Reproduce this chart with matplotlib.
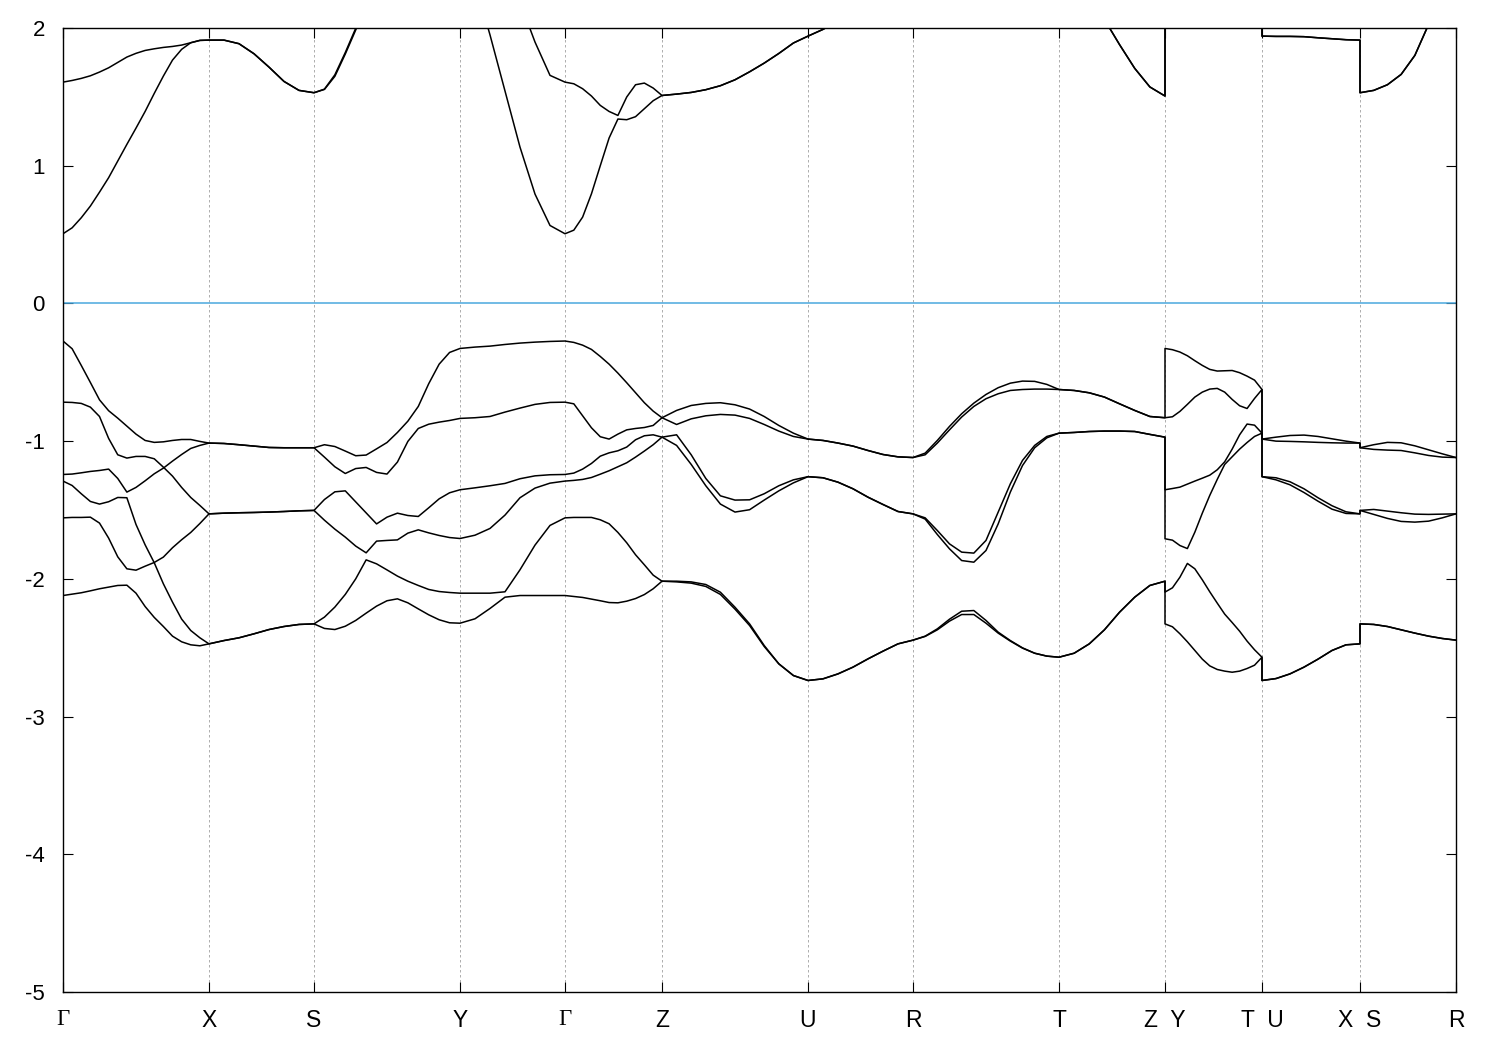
import numpy as np
import matplotlib
matplotlib.use('Agg')
from matplotlib import pyplot as plt

plt.rcParams['font.family'] = ['Liberation Sans', 'DejaVu Sans']
plt.rcParams['axes.unicode_minus'] = False

# k-path segment lengths (arb. units), in path order
seg_len = [1.46, 1.05, 1.46, 1.05, 0.97, 1.46, 1.05, 1.46, 1.06, 0.97, 0.98, 0.96]
tick_labels = ['Γ', 'X', 'S', 'Y', 'Γ', 'Z', 'U', 'R', 'T', 'Z  Y', 'T  U', 'X  S', 'R']

# band energies (eV) on each segment; 6 valence rows then 2 conduction rows
e_GX = [
    [-0.273, -0.329, -0.450, -0.574, -0.700, -0.779, -0.833, -0.891, -0.949, -0.995, -1.009, -1.005, -0.995, -0.988, -0.988, -1.002, -1.014],
    [-0.717, -0.719, -0.726, -0.753, -0.821, -0.980, -1.099, -1.123, -1.111, -1.111, -1.128, -1.189, -1.254, -1.336, -1.409, -1.467, -1.528],
    [-1.242, -1.239, -1.230, -1.220, -1.213, -1.203, -1.271, -1.370, -1.336, -1.288, -1.237, -1.196, -1.145, -1.097, -1.053, -1.031, -1.014],
    [-1.290, -1.322, -1.382, -1.438, -1.457, -1.440, -1.409, -1.411, -1.605, -1.753, -1.883, -2.036, -2.169, -2.292, -2.375, -2.428, -2.472],
    [-1.557, -1.554, -1.554, -1.552, -1.595, -1.704, -1.840, -1.927, -1.937, -1.908, -1.881, -1.842, -1.774, -1.716, -1.663, -1.598, -1.528],
    [-2.121, -2.111, -2.101, -2.087, -2.072, -2.060, -2.048, -2.046, -2.104, -2.201, -2.280, -2.346, -2.416, -2.457, -2.479, -2.486, -2.472],
    [0.506, 0.549, 0.622, 0.707, 0.808, 0.913, 1.034, 1.155, 1.273, 1.394, 1.525, 1.651, 1.767, 1.845, 1.893, 1.910, 1.912],
    [1.607, 1.619, 1.634, 1.653, 1.680, 1.711, 1.750, 1.789, 1.816, 1.837, 1.849, 1.859, 1.866, 1.876, 1.893, 1.910, 1.912],
]
e_XS = [
    [-1.014, -1.017, -1.026, -1.036, -1.046, -1.048, -1.048, -1.048],
    [-1.014, -1.017, -1.026, -1.036, -1.046, -1.048, -1.048, -1.048],
    [-1.528, -1.523, -1.520, -1.518, -1.515, -1.511, -1.506, -1.503],
    [-1.528, -1.523, -1.520, -1.518, -1.515, -1.511, -1.506, -1.503],
    [-2.472, -2.448, -2.428, -2.399, -2.368, -2.346, -2.331, -2.327],
    [-2.472, -2.448, -2.428, -2.399, -2.368, -2.346, -2.331, -2.327],
    [1.912, 1.912, 1.886, 1.813, 1.716, 1.612, 1.547, 1.530],
    [1.912, 1.912, 1.886, 1.813, 1.716, 1.612, 1.547, 1.530],
]
e_SY = [
    [-1.048, -1.026, -1.039, -1.072, -1.106, -1.101, -1.056, -1.010, -0.937, -0.855, -0.748, -0.583, -0.441, -0.356, -0.327],
    [-1.048, -1.116, -1.186, -1.235, -1.199, -1.191, -1.227, -1.239, -1.152, -1.002, -0.908, -0.877, -0.862, -0.850, -0.835],
    [-1.503, -1.424, -1.368, -1.361, -1.441, -1.521, -1.601, -1.552, -1.523, -1.540, -1.547, -1.484, -1.419, -1.375, -1.353],
    [-1.503, -1.574, -1.639, -1.697, -1.762, -1.811, -1.726, -1.721, -1.717, -1.668, -1.644, -1.666, -1.685, -1.700, -1.707],
    [-2.327, -2.278, -2.205, -2.113, -2.000, -1.862, -1.891, -1.935, -1.980, -2.017, -2.048, -2.077, -2.092, -2.099, -2.104],
    [-2.327, -2.360, -2.368, -2.344, -2.302, -2.249, -2.198, -2.159, -2.145, -2.174, -2.218, -2.261, -2.297, -2.319, -2.322],
    [1.530, 1.554, 1.649, 1.811, 1.985, 2.16, 2.32, 2.45, 2.55, 2.62, 2.67, 2.70, 2.71, 2.72, 2.72],
    [1.530, 1.556, 1.660, 1.822, 1.998, 2.18, 2.36, 2.52, 2.65, 2.76, 2.85, 2.91, 2.96, 2.99, 3.00],
]
e_YG = [
    [-0.327, -0.317, -0.310, -0.298, -0.288, -0.281, -0.276, -0.273],
    [-0.835, -0.830, -0.821, -0.789, -0.760, -0.733, -0.719, -0.717],
    [-1.353, -1.339, -1.324, -1.307, -1.273, -1.252, -1.244, -1.242],
    [-1.707, -1.683, -1.634, -1.537, -1.411, -1.341, -1.305, -1.290],
    [-2.104, -2.104, -2.104, -2.094, -1.934, -1.755, -1.612, -1.557],
    [-2.322, -2.290, -2.215, -2.133, -2.121, -2.121, -2.121, -2.121],
    [2.72, 2.33, 1.95, 1.542, 1.135, 0.794, 0.566, 0.506],
    [3.00, 2.80, 2.60, 2.40, 2.188, 1.898, 1.656, 1.607],
]
e_GZ = [
    [-0.273, -0.283, -0.303, -0.334, -0.385, -0.441, -0.506, -0.576, -0.649, -0.721, -0.782, -0.830],
    [-0.717, -0.729, -0.816, -0.903, -0.968, -0.985, -0.949, -0.918, -0.908, -0.901, -0.886, -0.830],
    [-1.242, -1.232, -1.203, -1.162, -1.109, -1.085, -1.070, -1.043, -0.990, -0.961, -0.954, -0.971],
    [-1.290, -1.285, -1.278, -1.264, -1.240, -1.215, -1.186, -1.157, -1.116, -1.072, -1.026, -0.971],
    [-1.557, -1.554, -1.554, -1.554, -1.571, -1.600, -1.663, -1.738, -1.825, -1.898, -1.973, -2.017],
    [-2.121, -2.128, -2.135, -2.147, -2.159, -2.172, -2.174, -2.162, -2.143, -2.114, -2.072, -2.017],
    [0.506, 0.532, 0.627, 0.796, 1.000, 1.201, 1.339, 1.334, 1.356, 1.414, 1.472, 1.510],
    [1.607, 1.595, 1.559, 1.506, 1.438, 1.394, 1.365, 1.499, 1.588, 1.600, 1.564, 1.510],
]
e_ZU = [
    [-0.830, -0.777, -0.741, -0.726, -0.721, -0.736, -0.767, -0.821, -0.886, -0.942, -0.985],
    [-0.830, -0.879, -0.838, -0.816, -0.806, -0.811, -0.835, -0.879, -0.927, -0.966, -0.985],
    [-0.971, -0.954, -1.099, -1.271, -1.397, -1.428, -1.426, -1.382, -1.324, -1.281, -1.258],
    [-0.971, -1.031, -1.169, -1.324, -1.457, -1.515, -1.498, -1.428, -1.361, -1.303, -1.258],
    [-2.017, -2.017, -2.022, -2.041, -2.097, -2.206, -2.327, -2.484, -2.617, -2.702, -2.738],
    [-2.017, -2.022, -2.031, -2.055, -2.113, -2.220, -2.339, -2.491, -2.617, -2.702, -2.738],
    [1.510, 1.520, 1.532, 1.552, 1.581, 1.624, 1.682, 1.745, 1.815, 1.891, 1.941],
    [1.510, 1.520, 1.532, 1.552, 1.581, 1.624, 1.682, 1.745, 1.815, 1.891, 1.941],
]
e_UR = [
    [-0.985, -0.995, -1.014, -1.036, -1.068, -1.097, -1.114, -1.119],
    [-0.985, -0.995, -1.014, -1.036, -1.068, -1.097, -1.114, -1.119],
    [-1.258, -1.266, -1.298, -1.346, -1.407, -1.460, -1.511, -1.528],
    [-1.258, -1.266, -1.298, -1.346, -1.407, -1.460, -1.511, -1.528],
    [-2.738, -2.726, -2.690, -2.641, -2.581, -2.525, -2.472, -2.445],
    [-2.738, -2.726, -2.690, -2.641, -2.581, -2.525, -2.472, -2.445],
    [1.941, 1.990, 2.05, 2.11, 2.17, 2.23, 2.28, 2.32],
    [1.941, 1.990, 2.05, 2.11, 2.17, 2.23, 2.28, 2.32],
]
e_RT = [
    [-1.119, -1.087, -0.995, -0.893, -0.801, -0.724, -0.661, -0.612, -0.579, -0.564, -0.566, -0.588, -0.625],
    [-1.119, -1.099, -1.014, -0.918, -0.825, -0.748, -0.692, -0.656, -0.632, -0.625, -0.622, -0.622, -0.625],
    [-1.528, -1.557, -1.649, -1.746, -1.806, -1.813, -1.721, -1.516, -1.310, -1.140, -1.031, -0.966, -0.942],
    [-1.528, -1.566, -1.678, -1.782, -1.867, -1.879, -1.794, -1.601, -1.370, -1.177, -1.048, -0.976, -0.942],
    [-2.445, -2.416, -2.363, -2.293, -2.235, -2.230, -2.302, -2.387, -2.448, -2.501, -2.540, -2.561, -2.569],
    [-2.445, -2.418, -2.370, -2.307, -2.259, -2.259, -2.322, -2.394, -2.452, -2.503, -2.540, -2.561, -2.569],
    [2.32, 2.36, 2.40, 2.44, 2.48, 2.52, 2.56, 2.60, 2.63, 2.66, 2.68, 2.69, 2.70],
    [2.32, 2.36, 2.40, 2.44, 2.48, 2.52, 2.56, 2.60, 2.63, 2.66, 2.68, 2.69, 2.70],
]
e_TZ = [
    [-0.625, -0.632, -0.649, -0.680, -0.729, -0.777, -0.821, -0.830],
    [-0.625, -0.632, -0.649, -0.680, -0.729, -0.777, -0.821, -0.830],
    [-0.942, -0.937, -0.930, -0.927, -0.927, -0.930, -0.951, -0.971],
    [-0.942, -0.937, -0.930, -0.927, -0.927, -0.930, -0.951, -0.971],
    [-2.569, -2.540, -2.472, -2.370, -2.242, -2.133, -2.048, -2.017],
    [-2.569, -2.540, -2.472, -2.370, -2.242, -2.133, -2.048, -2.017],
    [2.70, 2.48, 2.26, 2.062, 1.879, 1.707, 1.572, 1.506],
    [2.70, 2.48, 2.26, 2.062, 1.879, 1.707, 1.572, 1.506],
]
e_YT = [
    [-0.327, -0.336, -0.353, -0.380, -0.416, -0.450, -0.479, -0.491, -0.489, -0.487, -0.503, -0.528, -0.557, -0.625],
    [-0.830, -0.823, -0.784, -0.733, -0.680, -0.644, -0.622, -0.617, -0.644, -0.697, -0.743, -0.763, -0.690, -0.625],
    [-1.353, -1.344, -1.334, -1.312, -1.290, -1.269, -1.247, -1.208, -1.150, -1.058, -0.954, -0.876, -0.884, -0.942],
    [-1.709, -1.719, -1.758, -1.780, -1.661, -1.523, -1.394, -1.278, -1.169, -1.114, -1.058, -1.010, -0.966, -0.942],
    [-2.096, -2.065, -1.988, -1.888, -1.927, -2.007, -2.094, -2.176, -2.256, -2.317, -2.380, -2.452, -2.515, -2.569],
    [-2.327, -2.348, -2.399, -2.457, -2.520, -2.583, -2.632, -2.658, -2.670, -2.678, -2.670, -2.651, -2.627, -2.569],
    [2.55, 2.53, 2.51, 2.49, 2.47, 2.45, 2.43, 2.41, 2.39, 2.37, 2.36, 2.35, 2.34, 2.33],
    [2.90, 2.87, 2.84, 2.81, 2.78, 2.75, 2.72, 2.69, 2.66, 2.63, 2.60, 2.57, 2.54, 2.52],
]
e_UX = [
    [-0.985, -0.971, -0.959, -0.956, -0.966, -0.983, -1.000, -1.014],
    [-0.985, -1.000, -1.002, -1.005, -1.009, -1.012, -1.014, -1.014],
    [-1.258, -1.266, -1.295, -1.346, -1.411, -1.469, -1.513, -1.528],
    [-1.258, -1.281, -1.317, -1.373, -1.436, -1.494, -1.525, -1.528],
    [-2.738, -2.724, -2.690, -2.641, -2.583, -2.520, -2.479, -2.472],
    [-2.738, -2.724, -2.690, -2.641, -2.583, -2.520, -2.479, -2.472],
    [1.941, 1.939, 1.939, 1.937, 1.929, 1.922, 1.915, 1.912],
    [1.941, 1.939, 1.939, 1.937, 1.929, 1.922, 1.915, 1.912],
]
e_SR = [
    [-1.048, -1.026, -1.009, -1.012, -1.034, -1.063, -1.092, -1.119],
    [-1.048, -1.060, -1.065, -1.068, -1.085, -1.104, -1.116, -1.119],
    [-1.503, -1.496, -1.508, -1.520, -1.530, -1.532, -1.530, -1.528],
    [-1.503, -1.532, -1.561, -1.583, -1.588, -1.581, -1.557, -1.528],
    [-2.327, -2.331, -2.346, -2.370, -2.394, -2.416, -2.433, -2.445],
    [-2.327, -2.331, -2.346, -2.370, -2.394, -2.416, -2.433, -2.445],
    [1.530, 1.547, 1.588, 1.663, 1.801, 2.026, 2.25, 2.45],
    [1.530, 1.547, 1.588, 1.663, 1.801, 2.026, 2.25, 2.45],
]

segments = [e_GX, e_XS, e_SY, e_YG, e_GZ, e_ZU, e_UR, e_RT, e_TZ, e_YT, e_UX, e_SR]

# high-symmetry positions along the path
kticks = np.concatenate([[0.0], np.cumsum(seg_len)])

# join segments into continuous bands, matching by energy rank at each join
# (at Z|Y, T|U and X|S this gives the vertical jumps)
kk = []
bands = None
for i, seg in enumerate(segments):
    seg = np.array(seg)
    k = np.linspace(kticks[i], kticks[i + 1], seg.shape[1])
    new_order = np.argsort(seg[:, 0])
    if bands is None:
        bands = [list(seg[j]) for j in new_order]
    else:
        prev_order = np.argsort([b[-1] for b in bands])
        for p, n in zip(prev_order, new_order):
            bands[p].extend(seg[n])
    kk.extend(k)
kk = np.array(kk)

fig = plt.figure(figsize=(15, 10.5), dpi=100)
ax = fig.add_axes([63 / 1500, 58 / 1050, (1456 - 63) / 1500, (992 - 28) / 1050])

for kx in kticks[1:-1]:
    ax.axvline(kx, color='#a0a0a0', lw=0.6, dashes=(3, 3), zorder=1)

ax.axhline(0.0, color='#4aa8de', lw=1.1, zorder=2)

for b in bands:
    ax.plot(kk, b, color='black', lw=1.1, zorder=3, solid_joinstyle='round')

ax.set_xlim(kticks[0], kticks[-1])
ax.set_ylim(-5, 2)
ax.set_yticks(np.arange(-5, 3))
ax.set_yticklabels([str(v) for v in range(-5, 3)])
ax.set_xticks(kticks)
ax.set_xticklabels(tick_labels)
for lbl in ax.get_xticklabels():
    if lbl.get_text() == 'Γ':
        lbl.set_fontfamily('Liberation Serif')

ax.tick_params(axis='both', direction='in', length=7, width=0.8, top=True, right=True)
ax.tick_params(axis='y', labelsize=16, pad=13)
ax.tick_params(axis='x', labelsize=16.5, pad=12)
for sp in ax.spines.values():
    sp.set_linewidth(1.0)

fig.savefig('out.png', dpi=100)
